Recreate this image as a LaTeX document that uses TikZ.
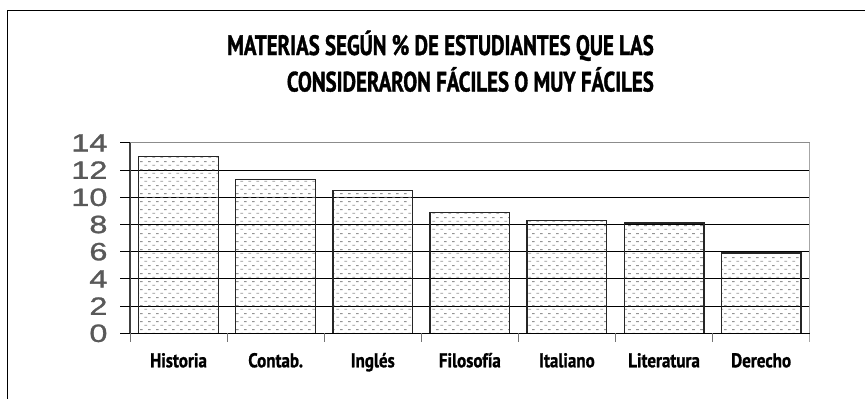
\documentclass[tikz,border=0pt]{standalone}
\usepackage{fontspec}
\setmainfont{Liberation Sans}
\newfontfamily\titrefont[FakeStretch=0.745, FakeBold=1.2]{PT Sans Bold}
\newfontfamily\categfont[FakeStretch=0.85, FakeBold=1]{PT Sans Bold}
\newfontfamily\chiffres[FakeStretch=1.3, FakeBold=1.2]{Liberation Sans}
\usepackage{tikz}
\usetikzlibrary{patterns}

% Motif des barres
\pgfdeclarepatternformonly{tirets}{\pgfpointorigin}{\pgfpoint{8pt}{8pt}}{\pgfpoint{8pt}{8pt}}{
	\pgfsetlinewidth{0.9pt}
	\pgfpathmoveto{\pgfpoint{0.5pt}{2pt}}\pgfpathlineto{\pgfpoint{3.5pt}{2pt}}
	\pgfpathmoveto{\pgfpoint{4.5pt}{6pt}}\pgfpathlineto{\pgfpoint{7.5pt}{6pt}}
	\pgfusepath{stroke}}

\begin{document}
\begin{tikzpicture}[x=1pt, y=-1pt,
		barre/.style={draw=black!85, line width=1.3pt, pattern=tirets, pattern color=gray!85},
		grille/.style={line width=0.9pt},
		titre/.style={anchor=base east, inner sep=0pt, font=\titrefont\fontsize{28}{32}\selectfont},
		categ/.style={anchor=base, inner sep=0pt, font=\categfont\fontsize{20}{24}\selectfont},
		valeur/.style={anchor=east, inner sep=0pt, text=black!65, font=\chiffres\fontsize{25}{28}\selectfont}]
				\useasboundingbox (0,0) rectangle (865,399);
				% Cadre
				\draw[line width=1.4pt] (7.5,399) -- (7.5,10.5) -- (865,10.5);
				
				% Titre
				\node[titre] (titre1) at (654,55) {MATERIAS SEGÚN \% DE ESTUDIANTES QUE LAS};
				\node[titre] (titre2) at (654,91.5) {CONSIDERARON FÁCILES O MUY FÁCILES};
				
				\begin{scope}[shift={(130pt,-333.3pt)}, x=97.1pt, y=13.6pt]
					% Grille
					\foreach \v in {2,4,...,12}
						\draw[grille] (0,\v) -- (7,\v);
					\draw[grille, black!45] (0,14) -- (7,14);
					
					% Barres
					\foreach \i/\nom/\val in {0/Historia/13, 1/Contab./11.3, 2/Inglés/10.5, 3/Filosofía/8.9, 4/Italiano/8.3, 5/Literatura/8.1, 6/Derecho/5.9} {
						\draw[barre] (\i+0.09,0) rectangle (\i+0.91,\val);
						\node[categ] (cat\i) at (\i+0.5,-2.5) {\nom};
					}
					
					% Axes
					\draw[line width=1.3pt, black!75] (0,14) -- (0,0);
					\draw[line width=1pt, black!35] (7,14) -- (7,-0.65);
					\draw[line width=1.3pt] (-0.1,0) -- (7,0);
					\foreach \k in {0,...,6}
						\draw[line width=1pt, black!55] (\k,0) -- (\k,-0.65);
					\foreach \v in {0,2,...,14} {
						\draw[line width=1pt] (-0.1,\v) -- (0,\v);
						\node[valeur] (val\v) at (-0.23,\v) {\v};
					}
				\end{scope}
			\end{tikzpicture}
\end{document}
